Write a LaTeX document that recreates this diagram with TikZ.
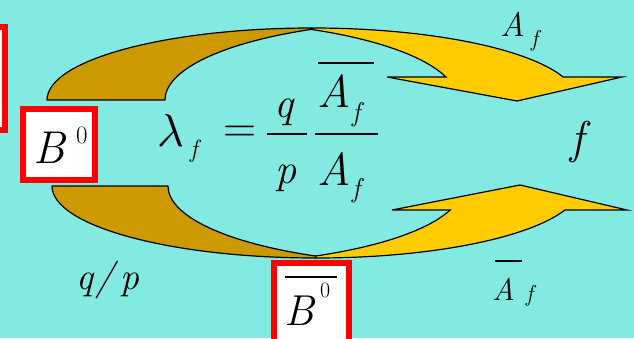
\documentclass[tikz,border=0pt]{standalone}
\usepackage{fontspec}
\definecolor{bgc}{RGB}{130,234,224}
\definecolor{backgold}{RGB}{204,153,0}
\definecolor{frontgold}{RGB}{255,204,0}
\definecolor{boxred}{RGB}{255,0,0}
\tikzset{
  backface/.style={fill=backgold,draw=black,line width=1.2pt,line join=round},
  frontface/.style={fill=frontgold,draw=black,line width=1.2pt,line join=miter},
  redbox/.style={fill=white,draw=boxred,line width=6pt},
  gl/.style={inner sep=0pt,outer sep=0pt,anchor=base west},
  big/.style={gl,font=\fontsize{46}{48}\selectfont},
  mid/.style={gl,font=\fontsize{34}{36}\selectfont},
  small/.style={gl,font=\fontsize{25}{27}\selectfont},
  barline/.style={line width=2pt,line cap=butt}
}
\begin{document}
\begin{tikzpicture}[x=1pt,y=1pt]
\useasboundingbox (0,0) rectangle (634,338);
\fill[bgc] (0,0) rectangle (634,338);
% boxes
\draw[redbox] (-70,311.25) rectangle (5,207.75);
\draw[redbox] (23,229) rectangle (95,158);
\draw[redbox] (274,75) rectangle (349,-20);
% top arrow
\draw[backface] (47,238) arc[start angle=180,end angle=90,x radius=265,y radius=72]
  -- (311.2,308.6) arc[start angle=116.63,end angle=180,x radius=265,y radius=79] -- cycle;
\draw[frontface] (312,310) arc[start angle=90,end angle=18.63,x radius=265,y radius=72]
  -- (622,261) -- (517,237) -- (387,261) -- (445.9,261)
  arc[start angle=16.93,end angle=63.37,x radius=265,y radius=79] -- cycle;
% bottom arrow
\draw[backface] (52,152) arc[start angle=180,end angle=270,x radius=264,y radius=72]
  -- (315.5,82) arc[start angle=243.81,end angle=180,x radius=264,y radius=78] -- cycle;
\draw[frontface] (316,80) arc[start angle=270,end angle=340.53,x radius=264,y radius=72]
  -- (627,128) -- (520,153) -- (392,128) -- (450.2,128)
  arc[start angle=342.08,end angle=296.19,x radius=264,y radius=78] -- cycle;
% formula
\node[gl,font=\fontsize{10}{12}\selectfont,scale=4.6] (lam) at (157,191) {$\lambda$};
\node[small] (lamsub) at (190,181) {\itshape f};
\node[big,anchor=center] (eq) at (240.5,204) {=};
\coordinate (b1l) at (267,204); \coordinate (b1r) at (307,204);
\draw[barline] (b1l) -- (b1r);
\node[big,scale=0.92] (q) at (274,221) {\itshape q};
\node[big,scale=0.92] (p) at (275,155) {\itshape p};
\coordinate (b2l) at (315,204); \coordinate (b2r) at (378,204);
\draw[barline] (b2l) -- (b2r);
\node[big] (an) at (317,230) {\itshape A};
\node[small,scale=1.08] (anf) at (352,217) {\itshape f};
\coordinate (ovl) at (318,275); \coordinate (ovr) at (374,275);
\draw[barline] (ovl) -- (ovr);
\node[big] (ad) at (317,153) {\itshape A};
\node[small,scale=1.08] (adf) at (352,141) {\itshape f};
% labels
\node[mid] (ta) at (500,301) {\itshape A};
\node[small,scale=0.92] (taf) at (531,291) {\itshape f};
\node[big] (rf) at (570,185) {\itshape f};
\node[mid,scale=1.11] (qp) at (76,49) {\itshape q\hspace{2pt}/\hspace{6pt}p};
\coordinate (bol) at (495,77); \coordinate (bor) at (522,77);
\draw[line width=1.5pt] (bol) -- (bor);
\node[mid,scale=0.92] (ba) at (492,38) {\itshape A};
\node[small,scale=0.92] (baf) at (526,37) {\itshape f};
% B0
\node[big] (b) at (33,175) {\itshape B};
\node[small] (bz) at (76,195) {0};
% bar B0
\coordinate (bbl) at (285,61); \coordinate (bbr) at (337,61);
\draw[barline] (bbl) -- (bbr);
\node[big,scale=0.94] (bb) at (284,13) {\itshape B};
\node[small,scale=0.88] (bbz) at (320,41) {0};
\end{tikzpicture}
\end{document}
